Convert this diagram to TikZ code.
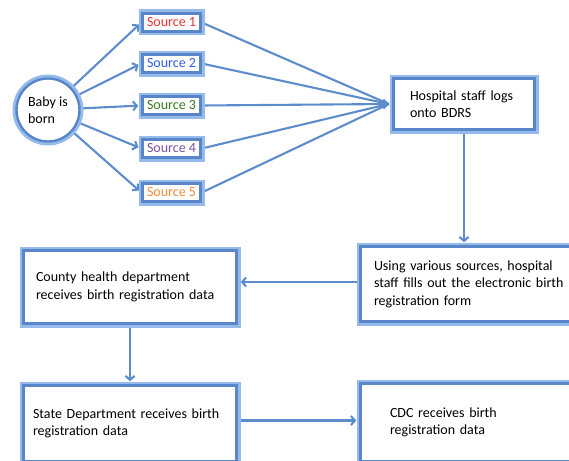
\documentclass[tikz,border=0pt]{standalone}
\usepackage{fontspec}
\setmainfont{Carlito}
\usetikzlibrary{arrows.meta,backgrounds}
\definecolor{edgeblue}{RGB}{92,140,204}
\definecolor{rimlight}{RGB}{150,186,234}
\definecolor{rimdark}{RGB}{88,134,200}
\definecolor{srcred}{RGB}{232,52,48}
\definecolor{srcblue}{RGB}{48,92,238}
\definecolor{srcgreen}{RGB}{58,122,34}
\definecolor{srcpurple}{RGB}{122,82,164}
\definecolor{srcorange}{RGB}{240,140,62}
\tikzset{
  rim/.style={draw=rimdark, line width=2.4pt, fill=white,
    preaction={draw=rimlight, line width=8pt}},
  flowbox/.style={rim, rectangle, align=left, inner ysep=0pt,
    font=\fontsize{14}{17.5}\selectfont},
  srcbox/.style={rim, rectangle, minimum width=58pt, minimum height=18pt,
    inner sep=0pt, font=\fontsize{14}{16}\selectfont},
  flow/.style={draw=edgeblue, line width=2.1pt,
    -{Straight Barb[length=4pt,width=9pt]}, shorten >=3pt},
  plainedge/.style={draw=edgeblue, line width=2.1pt}
}
\begin{document}
\begin{tikzpicture}[x=1pt,y=-1pt]
\useasboundingbox (0,0) rectangle (569,460);
\node[circle, rim, minimum size=63pt, inner sep=0pt, align=left,
  font=\fontsize{14}{17.5}\selectfont] (baby) at (48,110) {Baby is\\born};
\node[srcbox, text=srcred]    (s1) at (171.5,22.5)  {Source 1};
\node[srcbox, text=srcblue]   (s2) at (171.5,63.5)  {Source 2};
\node[srcbox, text=srcgreen]  (s3) at (171.5,105.5) {Source 3};
\node[srcbox, text=srcpurple] (s4) at (171.5,148.5) {Source 4};
\node[srcbox, text=srcorange] (s5) at (171.5,192.5) {Source 5};
\node[flowbox, text width=108pt, inner xsep=16.5pt, minimum height=51pt]
  (hosp) at (464,104) {Hospital staff logs\\onto BDRS};
\node[flowbox, text width=192.5pt, inner xsep=13.5pt, minimum height=75pt]
  (using) at (470.25,284) {Using various sources, hospital\\staff fills out the electronic birth\\registration form};
\node[flowbox, text width=188pt, inner xsep=12.5pt, minimum height=73pt]
  (county) at (130,287) {County health department\\receives birth registration data};
\node[flowbox, text width=194pt, inner xsep=9.5pt, minimum height=76pt]
  (state) at (130,423.5) {State Department receives birth\\registration data};
\node[flowbox, text width=160.5pt, inner xsep=29.5pt, minimum height=78pt]
  (cdc) at (470.25,422.5) {CDC receives birth\\registration data};
\coordinate (hub) at ([xshift=-3.5pt]hosp.west);
\begin{scope}[on background layer]
  \foreach \s in {s1,s2,s3,s4,s5} {
    \draw[flow] (baby) -- (\s.west);
  }
  \draw[plainedge] (s1.east) -- (hub);
  \draw[plainedge] (s2.east) -- (hub);
  \draw[plainedge] (s4.east) -- (hub);
  \draw[plainedge] (s5.east) -- (hub);
  \draw[flow, shorten >=0pt] (s3.east) -- (hub);
  \draw[flow] (hosp.south) -- (hosp.south |- using.north);
  \draw[flow] ([yshift=2pt]using.west) -- ([yshift=2pt]using.west -| county.east);
  \draw[flow] (county.south) -- (state.north);
  \draw[flow] ([yshift=3pt]state.east) -- ([yshift=3pt]state.east -| cdc.west);
\end{scope}
\end{tikzpicture}
\end{document}
